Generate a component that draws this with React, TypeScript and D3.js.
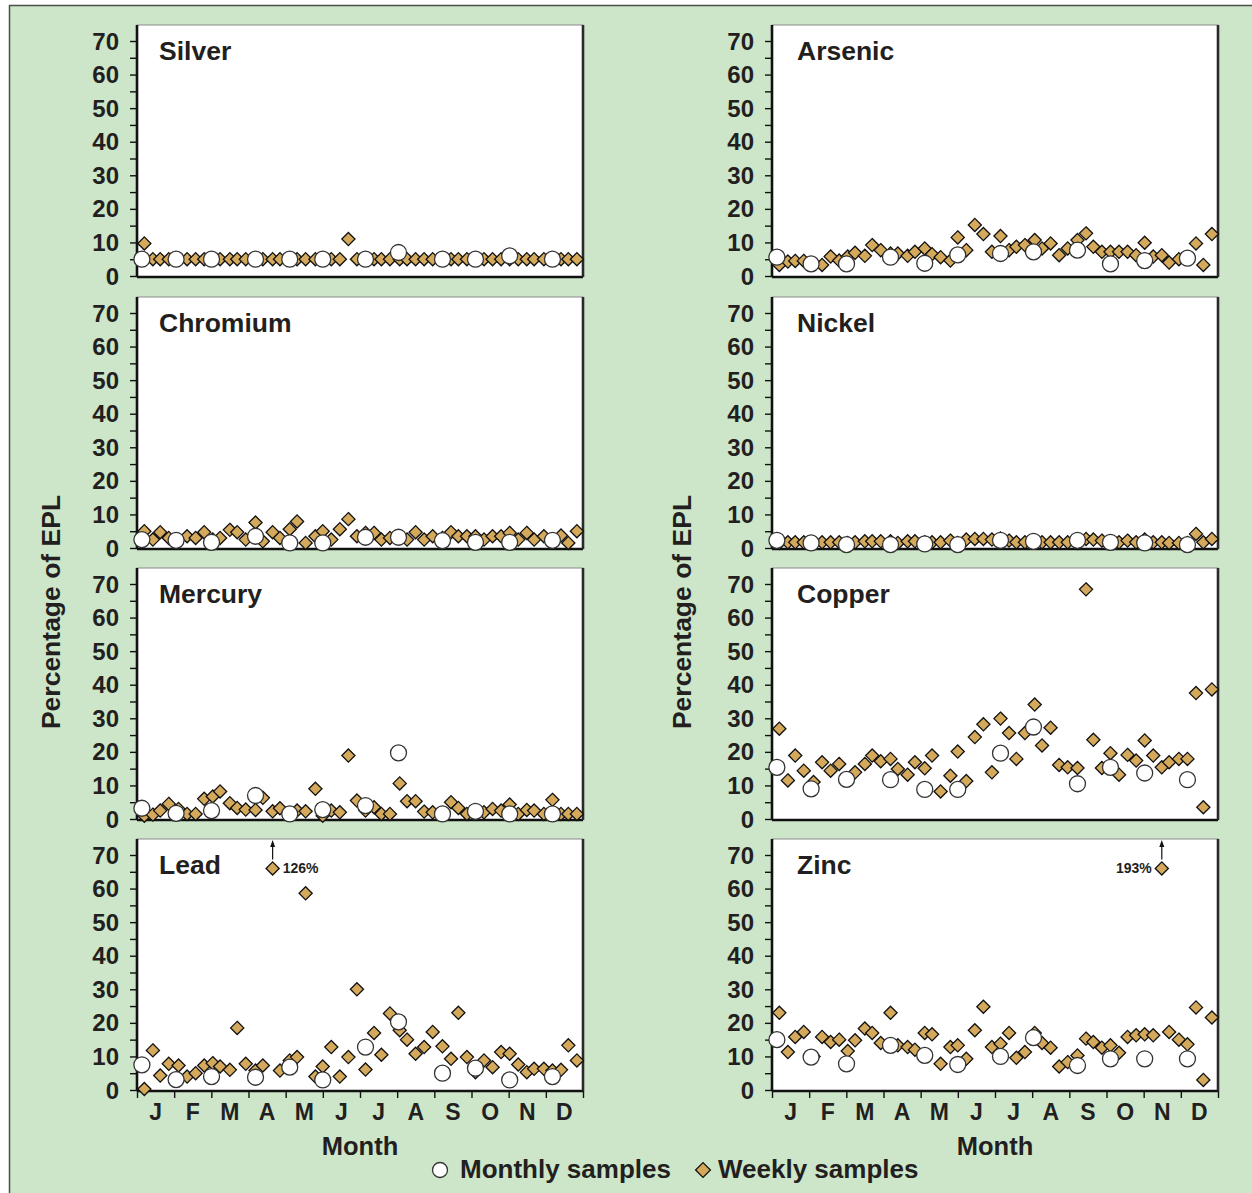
import React, { useEffect, useRef } from 'react';
import * as d3 from 'd3';

const monthLabels = ['J', 'F', 'M', 'A', 'M', 'J', 'J', 'A', 'S', 'O', 'N', 'D'];
const yTicks = [0, 10, 20, 30, 40, 50, 60, 70];
const yMinorTicks = [0, 5, 10, 15, 20, 25, 30, 35, 40, 45, 50, 55, 60, 65, 70];

// sampling dates (day of year)
const monthlyDays = [4, 32, 61, 97, 125, 152, 187, 214, 250, 277, 305, 340];
const weeklyDays = [
  6, 13, 19, 26, 34, 41, 48, 55, 62, 68,
  76, 82, 89, 97, 103, 111, 117, 125, 131, 138,
  146, 152, 159, 166, 173, 180, 187, 194, 200, 207,
  215, 221, 228, 235, 242, 250, 257, 263, 270, 277,
  284, 291, 298, 305, 312, 319, 325, 333, 340, 347,
  353, 360,
];

// percentage of EPL
const silverWeekly = [
  9.7, 5, 5, 5, 5, 5, 5, 5, 5, 5,
  5, 5, 5, 5, 5, 5, 5, 5, 5, 5,
  5, 5, 5, 5, 11, 5, 5, 5, 5, 5,
  5, 5, 5, 5, 5, 5, 5, 5, 5, 5,
  5, 5, 5, 5, 5, 5, 5, 5, 5, 5,
  5, 5,
];
const silverMonthly = [5, 5, 5, 5, 5, 5, 5, 7, 5, 5, 6, 5];

const arsenicWeekly = [
  3.3, 4.3, 4.5, 4.5, 3.5, 3.3, 5.8, 4.6, 5.8, 6.9,
  6, 9.2, 7.7, 6.7, 6.7, 6, 7.2, 8.2, 6.5, 5.6,
  4.6, 11.5, 7.7, 15.2, 12.5, 7.2, 11.9, 7.7, 8.7, 9.2,
  10.7, 8.2, 9.7, 6.2, 8.2, 10.7, 12.7, 8.7, 7.2, 7.2,
  7.2, 7.2, 6.2, 9.9, 5.8, 6.2, 4.0, 5, 5.5, 9.7,
  3.3, 12.5,
];
const arsenicMonthly = [5.6, 3.6, 3.6, 5.6, 3.8, 6.3, 6.7, 7.2, 7.7, 3.6, 4.6, 5.3];

const chromiumWeekly = [
  5, 2.5, 4.7, 3, 2.5, 3.5, 3, 4.7, 2.5, 3,
  5.4, 4.7, 2.5, 7.6, 2, 4.7, 3, 5.6, 7.9, 1.5,
  3.5, 5, 2.5, 5.6, 8.6, 3.5, 4.5, 4.5, 2.5, 3,
  3, 2.5, 4.7, 2.5, 3.5, 3, 4.7, 3.5, 3.5, 3.5,
  2.5, 3.5, 3.5, 4.5, 2.5, 4.5, 2.5, 3.5, 2.5, 3.7,
  1.5, 5,
];
const chromiumMonthly = [2.5, 2.3, 1.7, 3.5, 1.5, 1.5, 3.2, 3.2, 2.2, 1.7, 1.7, 2.3];

const nickelWeekly = [
  1.5, 1.7, 1.7, 1.7, 1.5, 1.7, 1.7, 1.7, 1.5, 1.7,
  2, 2, 2, 2, 1.5, 2, 2, 1.7, 1.7, 1.7,
  2.2, 1.5, 2.5, 2.7, 2.7, 2.5, 2.8, 2.2, 1.7, 1.7,
  2.3, 1.7, 1.7, 1.7, 1.7, 1.5, 2.7, 2.5, 2.2, 1.7,
  1.7, 2.2, 1.7, 2.5, 1.7, 1.7, 1.5, 1.5, 1.5, 4.2,
  1.7, 2.7,
];
const nickelMonthly = [2.3, 1.5, 1, 1, 1.2, 1, 2.3, 2, 2.3, 1.7, 1.5, 1];

const mercuryWeekly = [
  1, 1.3, 2.5, 4.5, 3, 1.5, 1.5, 6, 6.7, 8.2,
  4.7, 3.3, 2.8, 2.7, 6.3, 2.3, 3.2, 1.5, 2.5, 2.3,
  9, 1, 2.5, 2, 18.9, 5.5, 2.5, 3.5, 1.5, 1.5,
  10.6, 5.3, 5.3, 2.2, 2, 1.5, 5, 3.3, 1.5, 2,
  2, 3, 2.5, 4.3, 1.5, 2.7, 2.5, 1.5, 5.7, 1.5,
  1.5, 1.5,
];
const mercuryMonthly = [3.2, 1.7, 2.5, 7, 1.5, 2.8, 4, 19.7, 1.5, 2.3, 1.5, 1.5];

const copperWeekly = [
  26.9, 11.5, 18.9, 14.4, 11, 16.9, 14.4, 16.4, 12, 13.9,
  16.4, 18.9, 17.2, 17.9, 14.9, 13.2, 16.9, 15.1, 18.9, 8.2,
  12.9, 20.1, 11.3, 24.4, 28.2, 13.9, 29.9, 25.6, 17.9, 25.6,
  34.1, 21.9, 27.2, 16.1, 15.4, 15.2, 68.4, 23.6, 15.2, 19.6,
  13.2, 19.1, 17.4, 23.4, 18.9, 15.4, 16.9, 17.9, 17.9, 37.5,
  3.5, 38.6,
];
const copperMonthly = [15.4, 9, 11.8, 11.7, 8.8, 8.8, 19.6, 27.4, 10.5, 15.4, 13.7, 11.7];

const leadWeekly = [
  0.3, 11.8, 4.3, 7.8, 7.3, 4, 5, 7.3, 8, 7,
  6, 18.5, 7.8, 5.8, 7.3, 126, 5.8, 8.8, 9.8, 58.6,
  4, 7, 12.8, 4, 9.8, 30, 6.1, 17, 10.5, 22.8,
  17.8, 15, 10.8, 12.8, 17.3, 13, 9.3, 23, 9.8, 5.3,
  8.8, 6.8, 11.3, 10.8, 7.6, 5.3, 6.3, 6.3, 5.8, 6,
  13.3, 8.8,
];
const leadMonthly = [7.5, 3.1, 4, 3.8, 6.8, 3, 12.8, 20.3, 5, 6.5, 3, 4];

const zincWeekly = [
  23, 11.3, 15.8, 17.3, 10, 15.8, 14.3, 15, 11.6, 14.8,
  18.3, 17, 14, 23, 13.3, 12.8, 12, 17, 16.6, 7.8,
  12.8, 13.3, 9.3, 17.8, 24.8, 12.8, 13.8, 17, 9.6, 11.3,
  17, 14, 12.6, 7, 8.3, 10.3, 15.3, 14.3, 12.6, 13.3,
  11.1, 15.8, 16.3, 16.6, 16.3, 193, 17.3, 15, 13.6, 24.6,
  3, 21.6,
];
const zincMonthly = [15, 9.8, 7.8, 13.3, 10.3, 7.6, 10, 15.6, 7.3, 9.3, 9.3, 9.3];

const yMax = 70;
const offScaleCap = 66; // values above the axis are drawn here with an arrow

const panels = [
  { name: 'Silver', col: 0, row: 0, weekly: silverWeekly, monthly: silverMonthly },
  { name: 'Chromium', col: 0, row: 1, weekly: chromiumWeekly, monthly: chromiumMonthly },
  { name: 'Mercury', col: 0, row: 2, weekly: mercuryWeekly, monthly: mercuryMonthly },
  { name: 'Lead', col: 0, row: 3, weekly: leadWeekly, monthly: leadMonthly },
  { name: 'Arsenic', col: 1, row: 0, weekly: arsenicWeekly, monthly: arsenicMonthly },
  { name: 'Nickel', col: 1, row: 1, weekly: nickelWeekly, monthly: nickelMonthly },
  { name: 'Copper', col: 1, row: 2, weekly: copperWeekly, monthly: copperMonthly },
  { name: 'Zinc', col: 1, row: 3, weekly: zincWeekly, monthly: zincMonthly },
];

const FONT = '"Liberation Sans", Arial, Helvetica, sans-serif';
const TEXT = '#231f20';
const DIAMOND_FILL = '#d4a95c';

const App = () => {
  const svgRef = useRef(null);

  useEffect(() => {
    const svg = d3.select(svgRef.current);
    svg.selectAll('*').remove();

    const W = 1252;
    const H = 1193;
    const colX = [137, 772];
    const titleOffset = [22, 25];
    const rowY = [25, 297, 568, 839];
    const boxW = 446;
    const boxH = 252;

    svg.attr('width', W).attr('height', H);

    // green background frame
    svg.append('rect')
      .attr('x', 9.5).attr('y', 5.5)
      .attr('width', W).attr('height', H)
      .attr('fill', '#cde6c9')
      .attr('stroke', '#4d4d4d')
      .attr('stroke-width', 1.5);

    const diamond = d3.symbol().type(d3.symbolDiamond2).size(110);
    const monthEdges = d3.range(13).map((i) => (i * 365) / 12);
    const shown = (v) => (v > yMax ? offScaleCap : v);

    panels.forEach((p) => {
      const x0 = colX[p.col];
      const y0 = rowY[p.row];
      const xScale = d3.scaleLinear().domain([0, 365]).range([x0, x0 + boxW]);
      const yScale = d3.scaleLinear().domain([0, yMax]).range([y0 + boxH - 1, y0 + 16]);

      const g = svg.append('g');

      // plot box
      g.append('rect')
        .attr('x', x0).attr('y', y0)
        .attr('width', boxW).attr('height', boxH)
        .attr('fill', '#fff')
        .attr('stroke', '#8a8a8a')
        .attr('stroke-width', 1);

      // y axis
      const yAxis = g.append('g')
        .attr('transform', `translate(${x0},0)`)
        .call(d3.axisLeft(yScale).tickValues(yMinorTicks).tickSize(7).tickFormat(() => ''));
      yAxis.select('.domain').remove();
      yAxis.selectAll('line').attr('stroke', '#111').attr('stroke-width', 1.4);

      g.selectAll('.ylab')
        .data(yTicks)
        .enter()
        .append('text')
        .attr('x', x0 - 18)
        .attr('y', (d) => yScale(d) + 8.5)
        .attr('text-anchor', 'end')
        .attr('font-family', FONT)
        .attr('font-weight', 'bold')
        .attr('font-size', 24)
        .attr('fill', TEXT)
        .text((d) => d);

      // frame emphasis
      g.append('line')
        .attr('x1', x0).attr('x2', x0)
        .attr('y1', y0).attr('y2', y0 + boxH)
        .attr('stroke', '#111').attr('stroke-width', 2.6);
      g.append('line')
        .attr('x1', x0).attr('x2', x0 + boxW)
        .attr('y1', y0 + boxH).attr('y2', y0 + boxH)
        .attr('stroke', '#111').attr('stroke-width', 2.6);
      g.append('line')
        .attr('x1', x0 + boxW).attr('x2', x0 + boxW)
        .attr('y1', y0).attr('y2', y0 + boxH)
        .attr('stroke', '#2a2a2a').attr('stroke-width', 2.6);

      // month axis on the bottom row
      if (p.row === 3) {
        const xAxis = g.append('g')
          .attr('transform', `translate(0,${y0 + boxH})`)
          .call(d3.axisBottom(xScale).tickValues(monthEdges).tickSize(7).tickFormat(() => ''));
        xAxis.select('.domain').remove();
        xAxis.selectAll('line').attr('stroke', '#111').attr('stroke-width', 1.4);

        g.selectAll('.mlab')
          .data(monthLabels)
          .enter()
          .append('text')
          .attr('x', (d, i) => xScale((monthEdges[i] + monthEdges[i + 1]) / 2))
          .attr('y', y0 + boxH + 29)
          .attr('text-anchor', 'middle')
          .attr('font-family', FONT)
          .attr('font-weight', 'bold')
          .attr('font-size', 23)
          .attr('fill', TEXT)
          .text((d) => d);

        g.append('text')
          .attr('x', x0 + boxW / 2)
          .attr('y', y0 + boxH + 64)
          .attr('text-anchor', 'middle')
          .attr('font-family', FONT)
          .attr('font-weight', 'bold')
          .attr('font-size', 25.5)
          .attr('fill', TEXT)
          .text('Month');
      }

      // title
      g.append('text')
        .attr('x', x0 + titleOffset[p.col])
        .attr('y', y0 + 35)
        .attr('font-family', FONT)
        .attr('font-weight', 'bold')
        .attr('font-size', 26.5)
        .attr('fill', TEXT)
        .text(p.name);

      // weekly samples
      const weekly = p.weekly.map((v, i) => ({ day: weeklyDays[i], v }));
      g.selectAll('.wk')
        .data(weekly)
        .enter()
        .append('path')
        .attr('d', diamond)
        .attr('transform', (d) => `translate(${xScale(d.day)},${yScale(shown(d.v))})`)
        .attr('fill', DIAMOND_FILL)
        .attr('stroke', '#111')
        .attr('stroke-width', 1.3);

      // off-scale values: arrow + label
      weekly.filter((d) => d.v > yMax).forEach((d) => {
        const cx = xScale(d.day);
        const cy = yScale(offScaleCap);
        g.append('line')
          .attr('x1', cx).attr('x2', cx)
          .attr('y1', cy - 9).attr('y2', y0 + 4)
          .attr('stroke', '#111').attr('stroke-width', 1.2);
        g.append('path')
          .attr('d', `M${cx - 2.5},${y0 + 8}L${cx},${y0 + 1}L${cx + 2.5},${y0 + 8}Z`)
          .attr('fill', '#111');
        const onLeft = cx > x0 + boxW / 2;
        g.append('text')
          .attr('x', onLeft ? cx - 10 : cx + 10)
          .attr('y', cy + 5)
          .attr('text-anchor', onLeft ? 'end' : 'start')
          .attr('font-family', FONT)
          .attr('font-weight', 'bold')
          .attr('font-size', 14)
          .attr('fill', TEXT)
          .text(`${d.v}%`);
      });

      // monthly samples
      g.selectAll('.mo')
        .data(p.monthly)
        .enter()
        .append('circle')
        .attr('cx', (d, i) => xScale(monthlyDays[i]))
        .attr('cy', (d) => yScale(d))
        .attr('r', 8)
        .attr('fill', '#fff')
        .attr('stroke', '#333')
        .attr('stroke-width', 1.3);
    });

    // y axis titles
    [60, 691].forEach((x) => {
      svg.append('text')
        .attr('transform', `translate(${x},612) rotate(-90)`)
        .attr('text-anchor', 'middle')
        .attr('font-family', FONT)
        .attr('font-weight', 'bold')
        .attr('font-size', 26.5)
        .attr('fill', TEXT)
        .text('Percentage of EPL');
    });

    // legend
    const legend = svg.append('g').attr('transform', 'translate(0,1170)');
    legend.append('circle')
      .attr('cx', 440).attr('cy', 0).attr('r', 7.5)
      .attr('fill', '#fff').attr('stroke', '#333').attr('stroke-width', 1.3);
    legend.append('text')
      .attr('x', 460).attr('y', 8)
      .attr('font-family', FONT).attr('font-weight', 'bold').attr('font-size', 26)
      .attr('fill', TEXT)
      .text('Monthly samples');
    legend.append('path')
      .attr('d', d3.symbol().type(d3.symbolDiamond2).size(140)())
      .attr('transform', 'translate(703,0)')
      .attr('fill', DIAMOND_FILL).attr('stroke', '#111').attr('stroke-width', 1.3);
    legend.append('text')
      .attr('x', 718).attr('y', 8)
      .attr('font-family', FONT).attr('font-weight', 'bold').attr('font-size', 26)
      .attr('fill', TEXT)
      .text('Weekly samples');
  }, []);

  return (
    <svg ref={svgRef} style={{ position: 'absolute', left: 0, top: 0, display: 'block' }}></svg>
  );
};

export default App;
